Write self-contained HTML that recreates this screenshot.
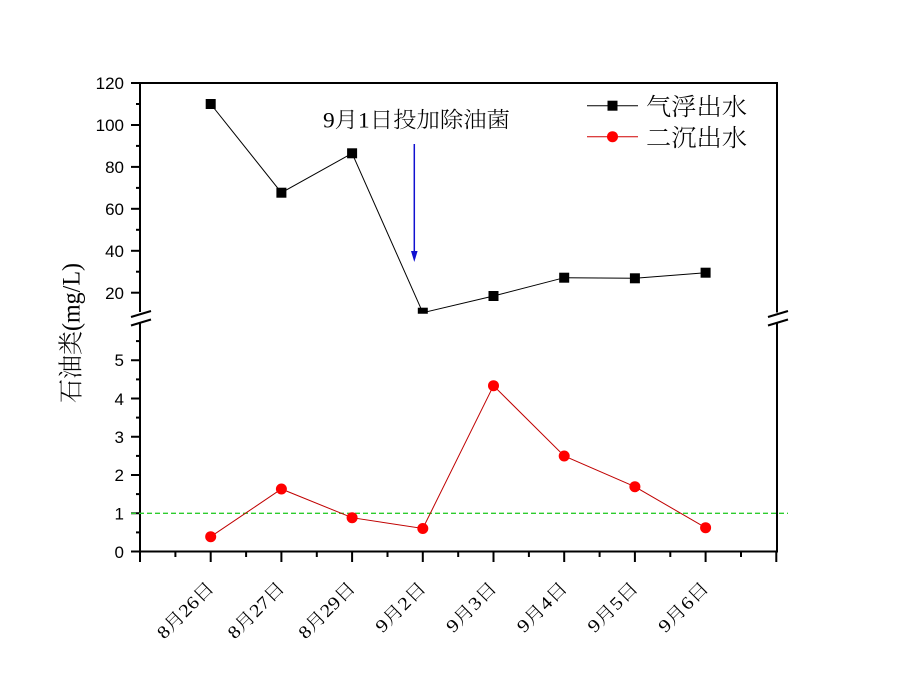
<!DOCTYPE html>
<html>
<head>
<meta charset="utf-8">
<style>
  html,body{margin:0;padding:0;background:#fff;}
  svg{display:block;}
  .tk{font-family:"Liberation Sans",Arial,sans-serif;font-size:17px;fill:#000;}
  .cj{font-family:"Liberation Serif","Noto Serif CJK SC",serif;fill:#000;font-weight:300;}
</style>
</head>
<body>
<svg width="897" height="690" viewBox="0 0 897 690" xmlns="http://www.w3.org/2000/svg">
  <rect width="897" height="690" fill="#fff"/>
  <defs>
    <clipPath id="cu"><rect x="140" y="80" width="640" height="233.7"/></clipPath>
  </defs>

  <!-- frame -->
  <g stroke="#000" stroke-width="2" fill="none">
    <line x1="139" y1="83" x2="778" y2="83"/>
    <line x1="139" y1="551.5" x2="778" y2="551.5"/>
    <line x1="140" y1="82" x2="140" y2="312"/>
    <line x1="140" y1="322.5" x2="140" y2="552.5"/>
    <line x1="777" y1="82" x2="777" y2="312.5"/>
    <line x1="777" y1="322.5" x2="777" y2="552.5"/>
    <!-- break marks -->
    <line x1="131" y1="317" x2="151" y2="311"/>
    <line x1="131" y1="325.5" x2="151" y2="319.5"/>
    <line x1="768" y1="317" x2="788" y2="311"/>
    <line x1="768" y1="325.5" x2="788" y2="319.5"/>
  </g>

  <!-- y ticks upper -->
  <g stroke="#000" stroke-width="2">
    <line x1="131" y1="292.7" x2="140" y2="292.7"/>
    <line x1="131" y1="250.8" x2="140" y2="250.8"/>
    <line x1="131" y1="208.8" x2="140" y2="208.8"/>
    <line x1="131" y1="166.9" x2="140" y2="166.9"/>
    <line x1="131" y1="125" x2="140" y2="125"/>
    <line x1="131" y1="83" x2="140" y2="83"/>
    <line x1="136" y1="271.7" x2="140" y2="271.7"/>
    <line x1="136" y1="229.8" x2="140" y2="229.8"/>
    <line x1="136" y1="187.9" x2="140" y2="187.9"/>
    <line x1="136" y1="145.9" x2="140" y2="145.9"/>
    <line x1="136" y1="104" x2="140" y2="104"/>
    <!-- lower -->
    <line x1="131" y1="551.5" x2="140" y2="551.5"/>
    <line x1="131" y1="513.25" x2="140" y2="513.25"/>
    <line x1="131" y1="475" x2="140" y2="475"/>
    <line x1="131" y1="436.75" x2="140" y2="436.75"/>
    <line x1="131" y1="398.5" x2="140" y2="398.5"/>
    <line x1="131" y1="360.25" x2="140" y2="360.25"/>
    <line x1="136" y1="532.4" x2="140" y2="532.4"/>
    <line x1="136" y1="494.1" x2="140" y2="494.1"/>
    <line x1="136" y1="455.9" x2="140" y2="455.9"/>
    <line x1="136" y1="417.6" x2="140" y2="417.6"/>
    <line x1="136" y1="379.4" x2="140" y2="379.4"/>
    <line x1="136" y1="341.1" x2="140" y2="341.1"/>
    <!-- x ticks -->
    <line x1="140" y1="551.5" x2="140" y2="562"/>
    <line x1="210.7" y1="551.5" x2="210.7" y2="562"/>
    <line x1="281.4" y1="551.5" x2="281.4" y2="562"/>
    <line x1="352.1" y1="551.5" x2="352.1" y2="562"/>
    <line x1="422.8" y1="551.5" x2="422.8" y2="562"/>
    <line x1="493.5" y1="551.5" x2="493.5" y2="562"/>
    <line x1="564.2" y1="551.5" x2="564.2" y2="562"/>
    <line x1="634.9" y1="551.5" x2="634.9" y2="562"/>
    <line x1="705.6" y1="551.5" x2="705.6" y2="562"/>
    <line x1="776.3" y1="551.5" x2="776.3" y2="562"/>
    <line x1="175.4" y1="551.5" x2="175.4" y2="557"/>
    <line x1="246.1" y1="551.5" x2="246.1" y2="557"/>
    <line x1="316.8" y1="551.5" x2="316.8" y2="557"/>
    <line x1="387.5" y1="551.5" x2="387.5" y2="557"/>
    <line x1="458.2" y1="551.5" x2="458.2" y2="557"/>
    <line x1="528.9" y1="551.5" x2="528.9" y2="557"/>
    <line x1="599.6" y1="551.5" x2="599.6" y2="557"/>
    <line x1="670.3" y1="551.5" x2="670.3" y2="557"/>
    <line x1="741" y1="551.5" x2="741" y2="557"/>
  </g>

  <!-- y tick labels -->
  <g class="tk" text-anchor="end">
    <text x="124" y="89">120</text>
    <text x="124" y="131">100</text>
    <text x="124" y="173">80</text>
    <text x="124" y="215">60</text>
    <text x="124" y="257">40</text>
    <text x="124" y="299">20</text>
    <text x="124" y="366">5</text>
    <text x="124" y="405">4</text>
    <text x="124" y="443">3</text>
    <text x="124" y="481">2</text>
    <text x="124" y="519.5">1</text>
    <text x="124" y="558">0</text>
  </g>

  <!-- x tick labels -->
  <g class="cj" font-size="18" text-anchor="end">
    <text x="215" y="589" transform="rotate(-45 215 589)" textLength="72" lengthAdjust="spacingAndGlyphs">8月26日</text>
    <text x="285.7" y="589" transform="rotate(-45 285.7 589)" textLength="72" lengthAdjust="spacingAndGlyphs">8月27日</text>
    <text x="356.4" y="589" transform="rotate(-45 356.4 589)" textLength="72" lengthAdjust="spacingAndGlyphs">8月29日</text>
    <text x="427.1" y="589" transform="rotate(-45 427.1 589)" textLength="63" lengthAdjust="spacingAndGlyphs">9月2日</text>
    <text x="497.8" y="589" transform="rotate(-45 497.8 589)" textLength="63" lengthAdjust="spacingAndGlyphs">9月3日</text>
    <text x="568.5" y="589" transform="rotate(-45 568.5 589)" textLength="63" lengthAdjust="spacingAndGlyphs">9月4日</text>
    <text x="639.2" y="589" transform="rotate(-45 639.2 589)" textLength="63" lengthAdjust="spacingAndGlyphs">9月5日</text>
    <text x="709.9" y="589" transform="rotate(-45 709.9 589)" textLength="63" lengthAdjust="spacingAndGlyphs">9月6日</text>
  </g>

  <!-- y axis title -->
  <text class="cj" font-size="25" text-anchor="middle" transform="translate(79.5 333) rotate(-90)" x="0" y="0" textLength="140" lengthAdjust="spacingAndGlyphs">石油类(mg/L)</text>

  <!-- green dashed limit -->
  <line x1="131" y1="513.3" x2="788" y2="513.3" stroke="#2ecc2e" stroke-width="1.3" stroke-dasharray="5,3"/>

  <!-- black series -->
  <g clip-path="url(#cu)">
    <polyline fill="none" stroke="#000" stroke-width="1" points="210.7,104 281.4,192.7 352.1,153.3 422.8,312.7 493.5,296 564.2,277.7 634.9,278.3 705.6,272.7"/>
    <g fill="#000">
      <rect x="205.7" y="99" width="10" height="10"/>
      <rect x="276.4" y="187.7" width="10" height="10"/>
      <rect x="347.1" y="148.3" width="10" height="10"/>
      <rect x="417.8" y="307.7" width="10" height="10"/>
      <rect x="488.5" y="291" width="10" height="10"/>
      <rect x="559.2" y="272.7" width="10" height="10"/>
      <rect x="629.9" y="273.3" width="10" height="10"/>
      <rect x="700.6" y="267.7" width="10" height="10"/>
    </g>
  </g>

  <!-- red series -->
  <polyline fill="none" stroke="#c00000" stroke-width="1" points="210.7,536.7 281.4,489 352.1,517.7 422.8,528.5 493.5,385.7 564.2,456 634.9,486.7 705.6,527.7"/>
  <g fill="#ff0000">
    <circle cx="210.7" cy="536.7" r="5.5"/>
    <circle cx="281.4" cy="489" r="5.5"/>
    <circle cx="352.1" cy="517.7" r="5.5"/>
    <circle cx="422.8" cy="528.5" r="5.5"/>
    <circle cx="493.5" cy="385.7" r="5.5"/>
    <circle cx="564.2" cy="456" r="5.5"/>
    <circle cx="634.9" cy="486.7" r="5.5"/>
    <circle cx="705.6" cy="527.7" r="5.5"/>
  </g>

  <!-- annotation -->
  <text class="cj" font-size="22" x="323" y="127.4" textLength="187" lengthAdjust="spacingAndGlyphs" fill="#222">9月1日投加除油菌</text>
  <line x1="414.3" y1="144" x2="414.3" y2="254" stroke="#1010d0" stroke-width="1.5"/>
  <polygon points="411,251 417.6,251 414.3,262" fill="#1010d0"/>

  <!-- legend -->
  <line x1="587" y1="105.7" x2="638" y2="105.7" stroke="#000" stroke-width="1"/>
  <rect x="607.5" y="100.7" width="10" height="10" fill="#000"/>
  <text class="cj" font-size="24" x="646" y="114.8" textLength="101" lengthAdjust="spacingAndGlyphs">气浮出水</text>
  <line x1="587" y1="136.7" x2="638" y2="136.7" stroke="#d00000" stroke-width="1"/>
  <circle cx="612.5" cy="136.7" r="5.5" fill="#ff0000"/>
  <text class="cj" font-size="24" x="646" y="145.8" textLength="101" lengthAdjust="spacingAndGlyphs">二沉出水</text>
</svg>
</body>
</html>
